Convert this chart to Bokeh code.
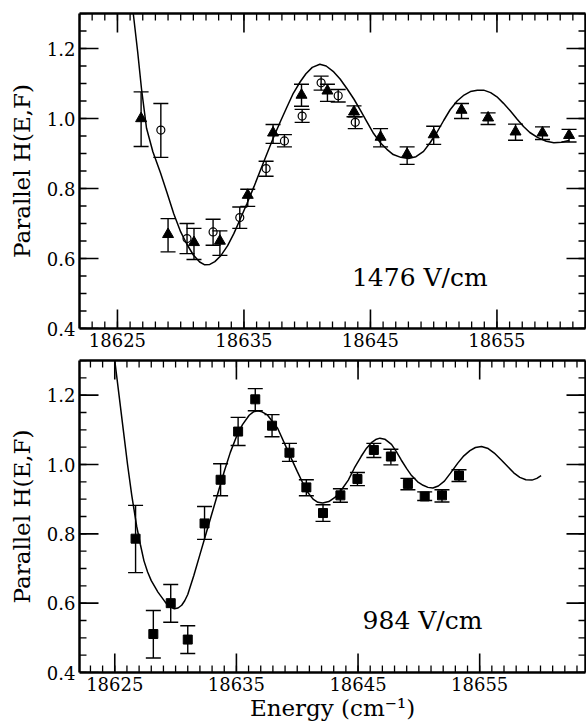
import math
from bokeh.plotting import figure
from bokeh.models import ColumnDataSource, Whisker, TeeHead, LinearAxis, FixedTicker, Range1d
from bokeh.layouts import column
from bokeh.embed import file_html
from bokeh.resources import INLINE
from bokeh.core.properties import value

FONT = "DejaVu Serif"

# ---------------- data: 1476 V/cm (top) ----------------
tri_E = [18626.87, 18629.0, 18631.05, 18633.1, 18635.3, 18637.3, 18639.55, 18641.6, 18643.7,
         18645.8, 18647.9, 18650.0, 18652.2, 18654.3, 18656.47, 18658.6, 18660.7]
tri_H = [1.0, 0.669, 0.646, 0.650, 0.781, 0.959, 1.067, 1.079, 1.019,
         0.947, 0.898, 0.954, 1.024, 1.002, 0.962, 0.959, 0.952]
tri_hi = [1.076, 0.714, 0.686, 0.679, 0.798, 0.983, 1.098, 1.098, 1.036,
          0.971, 0.919, 0.978, 1.043, 1.016, 0.984, 0.976, 0.969]
tri_lo = [0.920, 0.619, 0.597, 0.609, 0.749, 0.929, 1.035, 1.049, 1.005,
          0.919, 0.869, 0.926, 1.000, 0.983, 0.938, 0.940, 0.933]

circ_E = [18628.43, 18630.5, 18632.56, 18634.67, 18636.75, 18638.2, 18639.6, 18641.1, 18642.45, 18643.8]
circ_H = [0.967, 0.657, 0.676, 0.717, 0.857, 0.936, 1.007, 1.102, 1.065, 0.989]
circ_hi = [1.043, 0.700, 0.712, 0.747, 0.878, 0.954, 1.026, 1.121, 1.083, 1.005]
circ_lo = [0.889, 0.614, 0.638, 0.686, 0.835, 0.919, 0.989, 1.081, 1.047, 0.971]

top_curve_E = [18626.25, 18626.6, 18626.9, 18627.3, 18627.8, 18628.4, 18628.9, 18629.45, 18630.0,
               18630.5, 18631.0, 18631.5, 18631.9, 18632.3, 18632.7, 18633.15, 18633.7, 18634.2,
               18634.7, 18635.25, 18635.8, 18636.3, 18636.85, 18637.35, 18637.9, 18638.4, 18638.9,
               18639.45, 18639.9, 18640.4, 18641.0, 18641.5, 18642.1, 18642.6, 18643.15, 18643.7,
               18644.2, 18644.7, 18645.25, 18645.8, 18646.3, 18646.8, 18647.4, 18648.0, 18648.6,
               18649.2, 18649.7, 18650.25, 18650.8, 18651.3, 18651.85, 18652.4, 18652.9, 18653.45,
               18653.95, 18654.5, 18655.0, 18655.5, 18656.05, 18656.6, 18657.1, 18657.6, 18658.2,
               18658.9, 18659.5, 18660.1, 18660.7]
top_curve_H = [1.300, 1.190, 1.085, 0.972, 0.905, 0.845, 0.790, 0.728, 0.676,
               0.640, 0.610, 0.590, 0.582, 0.583, 0.591, 0.607, 0.636, 0.671,
               0.712, 0.758, 0.806, 0.852, 0.902, 0.947, 0.993, 1.033, 1.072,
               1.105, 1.128, 1.146, 1.155, 1.150, 1.133, 1.113, 1.085, 1.055,
               1.024, 0.992, 0.957, 0.930, 0.912, 0.897, 0.889, 0.886, 0.891,
               0.906, 0.930, 0.960, 0.995, 1.025, 1.050, 1.067, 1.077, 1.081,
               1.081, 1.074, 1.062, 1.044, 1.022, 0.998, 0.977, 0.960, 0.946,
               0.935, 0.931, 0.932, 0.937]

# ---------------- data: 984 V/cm (bottom) ----------------
sq_E = [18626.71, 18628.17, 18629.6, 18631.0, 18632.38, 18633.7, 18635.14, 18636.55, 18637.93, 18639.36,
        18640.75, 18642.12, 18643.55, 18644.95, 18646.3, 18647.7, 18649.1, 18650.48, 18651.9, 18653.3]
sq_H = [0.786, 0.511, 0.600, 0.495, 0.830, 0.956, 1.095, 1.188, 1.112, 1.034,
        0.934, 0.860, 0.911, 0.958, 1.042, 1.023, 0.944, 0.908, 0.911, 0.968]
sq_hi = [0.882, 0.579, 0.654, 0.535, 0.879, 1.002, 1.136, 1.219, 1.144, 1.061,
         0.956, 0.884, 0.930, 0.977, 1.061, 1.044, 0.960, 0.921, 0.927, 0.985]
sq_lo = [0.688, 0.442, 0.545, 0.455, 0.784, 0.910, 1.055, 1.155, 1.080, 1.009,
         0.910, 0.836, 0.891, 0.939, 1.020, 0.999, 0.927, 0.896, 0.892, 0.951]

bot_curve_E = [18625.0, 18625.35, 18625.7, 18626.05, 18626.4, 18626.8, 18627.1, 18627.4, 18627.7,
               18628.0, 18628.55, 18629.15, 18629.5, 18629.9, 18630.2, 18630.5, 18630.75, 18631.0,
               18631.5, 18632.0, 18632.5, 18633.0, 18633.5, 18634.0, 18634.5, 18635.0, 18635.5,
               18636.05, 18636.4, 18636.75, 18637.1, 18637.55, 18638.4, 18639.35, 18640.0, 18640.75,
               18641.3, 18641.7, 18642.1, 18642.6, 18643.1, 18643.6, 18644.2, 18644.7, 18645.25,
               18645.7, 18646.1, 18646.45, 18646.8, 18647.2, 18647.75, 18648.15, 18648.55, 18649.0,
               18649.4, 18649.9, 18650.35, 18650.75, 18651.15, 18651.6, 18652.1, 18652.6, 18653.2,
               18653.7, 18654.2, 18654.65, 18655.15, 18655.7, 18656.2, 18656.8, 18657.3, 18657.8,
               18658.3, 18658.8, 18659.3, 18659.7, 18660.05]
bot_curve_H = [1.300, 1.200, 1.100, 1.000, 0.910, 0.822, 0.770, 0.722, 0.690,
               0.665, 0.632, 0.603, 0.590, 0.584, 0.586, 0.594, 0.607, 0.625,
               0.680, 0.740, 0.800, 0.860, 0.920, 0.980, 1.035, 1.080, 1.115,
               1.142, 1.152, 1.155, 1.152, 1.143, 1.104, 1.030, 0.980, 0.925,
               0.900, 0.891, 0.889, 0.893, 0.905, 0.925, 0.955, 0.990, 1.023,
               1.047, 1.063, 1.072, 1.076, 1.073, 1.058, 1.037, 1.013, 0.988,
               0.968, 0.950, 0.940, 0.934, 0.932, 0.938, 0.952, 0.975, 1.004,
               1.025, 1.040, 1.049, 1.052, 1.046, 1.033, 1.012, 0.994, 0.976,
               0.963, 0.956, 0.955, 0.960, 0.968]

# ---------------- ticks ----------------
x_major = [18625, 18635, 18645, 18655]
x_minor_top = list(range(18622, 18663))
x_minor_bot = list(range(18623, 18664))
y_major = [0.4, 0.6, 0.8, 1.0, 1.2]
y_labels = ["0.4", "0.6", "0.8", "1.0", "1.2"]
y_minor = [0.40, 0.45, 0.50, 0.55, 0.60, 0.65, 0.70, 0.75, 0.80, 0.85, 0.90,
           0.95, 1.00, 1.05, 1.10, 1.15, 1.20, 1.25, 1.30]

Y0, Y1 = 0.4, 1.3
MAJ, MIN = 19, 7      # inward tick lengths in screen px
FRAME_W = 506         # frame width in px (both panels)


def style_axis(ax, ticks, minor, labels=None, show_labels=True):
    ax.ticker = FixedTicker(ticks=ticks, minor_ticks=minor)
    ax.axis_line_width = 2.5
    ax.axis_line_color = "black"
    ax.major_tick_in = 0
    ax.major_tick_out = 0
    ax.minor_tick_in = 0
    ax.minor_tick_out = 0
    if show_labels:
        ax.major_label_text_font = FONT
        ax.major_label_text_font_size = "18px"
        ax.major_label_text_color = "black"
        ax.major_label_standoff = 4
        if labels is not None:
            ax.major_label_overrides = {t: l for t, l in zip(ticks, labels)}
    else:
        ax.major_label_text_alpha = 0.0
        ax.major_label_standoff = 0
        ax.major_label_text_font_size = "1px"


def tick_whisker(p, base, lower, upper, dim, lw):
    src = ColumnDataSource(dict(b=base, lo=lower, hi=upper))
    p.add_layout(Whisker(source=src, base="b", lower="lo", upper="hi", dimension=dim,
                         line_color="black", line_width=lw, lower_head=None, upper_head=None))


def add_frame_ticks(p, x0, x1, xminor, frame_h):
    # inward ticks on all four sides; pixel lengths converted to data units
    kx = (x1 - x0) / FRAME_W
    ky = (Y1 - Y0) / frame_h
    for L, xs, ys, lw in ((MAJ, x_major, y_major, 1.6), (MIN, xminor, y_minor, 1.3)):
        n, m = len(xs), len(ys)
        tick_whisker(p, xs, [Y0] * n, [Y0 + L * ky] * n, "height", lw)
        tick_whisker(p, xs, [Y1 - L * ky] * n, [Y1] * n, "height", lw)
        tick_whisker(p, ys, [x0] * m, [x0 + L * kx] * m, "width", lw)
        tick_whisker(p, ys, [x1 - L * kx] * m, [x1] * m, "width", lw)


def make_panel(height, x0, x1, xminor, bt, bb, frame_h, xlabel):
    p = figure(width=586, height=height, output_backend="svg", toolbar_location=None,
               x_range=Range1d(x0, x1), y_range=Range1d(Y0, Y1),
               min_border_left=79, min_border_right=1, min_border_top=bt, min_border_bottom=bb)
    p.grid.visible = False
    p.outline_line_color = None
    style_axis(p.xaxis[0], x_major, xminor)
    style_axis(p.yaxis[0], y_major, y_minor, y_labels)
    p.yaxis[0].axis_label = "Parallel H(E,F)"
    p.yaxis[0].axis_label_text_font = FONT
    p.yaxis[0].axis_label_text_font_size = "23px"
    p.yaxis[0].axis_label_text_font_style = "normal"
    p.yaxis[0].axis_label_text_color = "black"
    p.yaxis[0].axis_label_standoff = 9
    if xlabel:
        p.xaxis[0].axis_label = xlabel
        p.xaxis[0].axis_label_text_font = FONT
        p.xaxis[0].axis_label_text_font_size = "23px"
        p.xaxis[0].axis_label_text_font_style = "normal"
        p.xaxis[0].axis_label_text_color = "black"
        p.xaxis[0].axis_label_standoff = 1
    top_ax = LinearAxis()
    style_axis(top_ax, x_major, xminor, show_labels=False)
    p.add_layout(top_ax, "above")
    right_ax = LinearAxis()
    style_axis(right_ax, y_major, y_minor, show_labels=False)
    p.add_layout(right_ax, "right")
    add_frame_ticks(p, x0, x1, xminor, frame_h)
    return p


def add_errors(p, E, hi, lo):
    src = ColumnDataSource(dict(x=E, hi=hi, lo=lo))
    w = Whisker(source=src, base="x", upper="hi", lower="lo", line_width=1.4, line_color="black",
                upper_head=TeeHead(size=15, line_width=1.4, line_color="black"),
                lower_head=TeeHead(size=15, line_width=1.4, line_color="black"))
    p.add_layout(w)


# top panel
p1 = make_panel(354, 18622, 18662, x_minor_top, 13, 26, 315, None)
p1.line(top_curve_E, top_curve_H, line_color="black", line_width=1.5)
add_errors(p1, tri_E, tri_hi, tri_lo)
add_errors(p1, circ_E, circ_hi, circ_lo)
p1.scatter(tri_E, tri_H, marker="triangle", size=11, fill_color="black", line_color="black")
p1.scatter(circ_E, circ_H, marker="circle", size=8, fill_color=None, line_color="black", line_width=1.2)
p1.text(x=[18648.9], y=[0.547], text=["1476 V/cm"], text_font=value(FONT), text_font_size="25px",
        text_align="center", text_baseline="middle", text_color="black")

# bottom panel
p2 = make_panel(370, 18622.1, 18663.7, x_minor_bot, 6, 52, 312, "Energy (cm⁻¹)")
p2.line(bot_curve_E, bot_curve_H, line_color="black", line_width=1.5)
add_errors(p2, sq_E, sq_hi, sq_lo)
p2.scatter(sq_E, sq_H, marker="square", size=9, fill_color="black", line_color="black")
p2.text(x=[18650.3], y=[0.551], text=["984 V/cm"], text_font=value(FONT), text_font_size="25px",
        text_align="center", text_baseline="middle", text_color="black")

layout = column(p1, p2, spacing=0)
open("out.html", "w").write(file_html(layout, INLINE))
